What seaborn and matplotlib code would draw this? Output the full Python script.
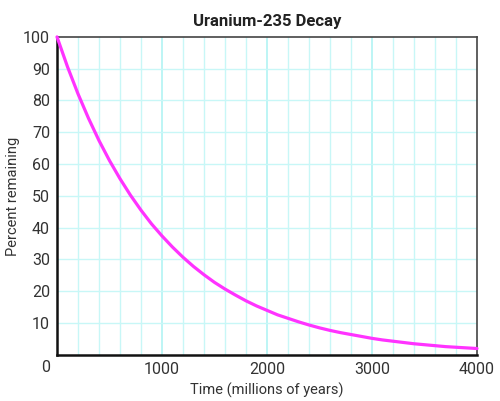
import numpy as np
import pandas as pd
import seaborn as sns
import matplotlib.pyplot as plt

# Values (every 100 million years)
time_myr = list(range(0, 4001, 100))
percent_remaining = [
    100.0, 90.6, 82.1, 74.4, 67.4, 61.1, 55.4, 50.2, 45.5, 41.2,
    37.4, 33.9, 30.7, 27.8, 25.2, 22.8, 20.7, 18.8, 17.0, 15.4,
    14.0, 12.6, 11.5, 10.4, 9.4, 8.5, 7.7, 7.0, 6.4, 5.8,
    5.2, 4.7, 4.3, 3.9, 3.5, 3.2, 2.9, 2.6, 2.4, 2.2, 2.0,
]
x_ticks = [0, 1000, 2000, 3000, 4000]
y_ticks = [10, 20, 30, 40, 50, 60, 70, 80, 90, 100]

df = pd.DataFrame({"Time": time_myr, "Percent": percent_remaining})

sns.set_style("white")
plt.rcParams["font.family"] = ["Liberation Sans Narrow", "DejaVu Sans Condensed",
                               "Roboto", "DejaVu Sans"]
text_color = "#333333"

fig = plt.figure(figsize=(5, 4.01), dpi=100)
ax = fig.add_axes([0.114, 0.115, 0.84, 0.793])

# graph-paper grid
for xv in range(200, 4000, 200):
    strong = xv % 1000 == 0
    ax.axvline(xv, color="#b2f3f3" if strong else "#c8f7f7",
               lw=1.2 if strong else 1.0, zorder=0)
for yv in range(10, 100, 10):
    ax.axhline(yv, color="#c8f7f7", lw=1.0, zorder=0)

sns.lineplot(data=df, x="Time", y="Percent", ax=ax, color="#ff33ff",
             lw=2.3, zorder=3, clip_on=False)

ax.set_xlim(0, 4000)
ax.set_ylim(0, 100)
# origin "0" sits left of the corner, shared by both axes
ax.set_xticks(x_ticks[1:])
ax.set_xticklabels([str(v) for v in x_ticks[1:]], fontsize=11.5, color=text_color)
ax.annotate(str(x_ticks[0]), xy=(x_ticks[0], 0), xytext=(-5, -4),
            textcoords="offset points", ha="right", va="top",
            fontsize=11.5, color=text_color)
ax.set_yticks(y_ticks)
ax.set_yticklabels([str(v) for v in y_ticks], fontsize=11.5, color=text_color)
ax.tick_params(length=0, pad=5)

for side in ["left", "bottom"]:
    ax.spines[side].set_color("#111111")
    ax.spines[side].set_linewidth(1.8)
for side in ["top", "right"]:
    ax.spines[side].set_color("#444444")
    ax.spines[side].set_linewidth(1.2)

ax.set_title("Uranium-235 Decay", fontsize=12, fontweight="bold",
             color="#222222", pad=8)
ax.set_xlabel("Time (millions of years)", fontsize=10.5, color=text_color,
              labelpad=4)
ax.set_ylabel("Percent remaining", fontsize=10.5, color=text_color,
              labelpad=2)

plt.savefig("out.png", dpi=100)
